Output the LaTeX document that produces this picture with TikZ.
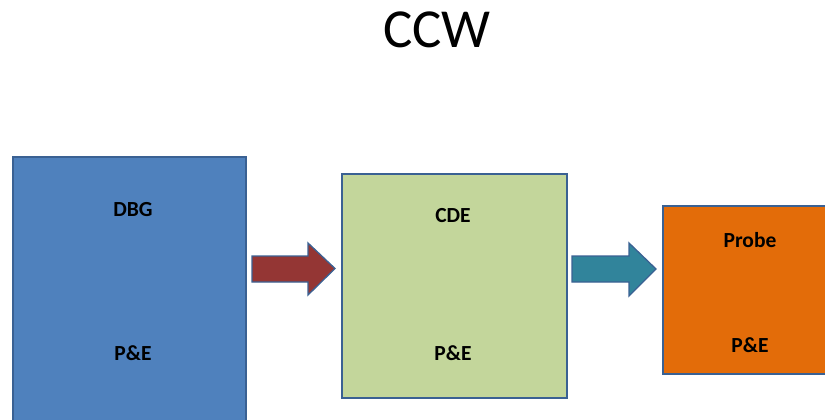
\documentclass[tikz,border=0pt]{standalone}
\usepackage{fontspec}
\setmainfont{Carlito}
\definecolor{bluefill}{HTML}{4F81BD}
\definecolor{edgeblue}{HTML}{3A6193}
\definecolor{greenfill}{HTML}{C3D69B}
\definecolor{orangefill}{HTML}{E36C09}
\definecolor{redarrow}{HTML}{943634}
\definecolor{tealarrow}{HTML}{31849B}
\tikzset{
  block/.style={draw=edgeblue, line width=1.6pt, anchor=north west, inner sep=0pt},
  lbl/.style={font=\fontsize{21.5}{24}\selectfont\bfseries, text=black},
  fatarrow/.style={draw=edgeblue, line width=1.3pt, line join=miter}
}
\begin{document}
\begin{tikzpicture}[x=1pt,y=-1pt]
\useasboundingbox (0,0) rectangle (825,420);
\clip (0,0) rectangle (825,420);
% title
\node (title) at (437,30) {\fontsize{55}{60}\selectfont CCW};
% boxes
\node[block, fill=bluefill, minimum width=233pt, minimum height=280pt] (dbg) at (12,156) {};
\node[block, fill=greenfill, minimum width=225pt, minimum height=224pt] (cde) at (341,173) {};
\node[block, fill=orangefill, minimum width=180pt, minimum height=168pt] (probe) at (662,205) {};
% labels
\node[lbl] (dbgt) at (133,210) {DBG};
\node[lbl] (dbgb) at (133,353) {P\&E};
\node[lbl] (cdet) at (453,216) {CDE};
\node[lbl] (cdeb) at (453,353) {P\&E};
\node[lbl] (probet) at (750,240) {Probe};
\node[lbl] (probeb) at (750,345) {P\&E};
% arrows
\coordinate (a1) at (252,256);
\coordinate (a2) at (572,256);
\draw[fatarrow, fill=redarrow] (a1) -- ++(56,0) -- ++(0,-13) -- ++(27,25.5) -- ++(-27,26.5) -- ++(0,-13) -- ++(-56,0) -- cycle;
\draw[fatarrow, fill=tealarrow] (a2) -- ++(57,0) -- ++(0,-13) -- ++(27,26) -- ++(-27,27) -- ++(0,-14) -- ++(-57,0) -- cycle;
\end{tikzpicture}
\end{document}
